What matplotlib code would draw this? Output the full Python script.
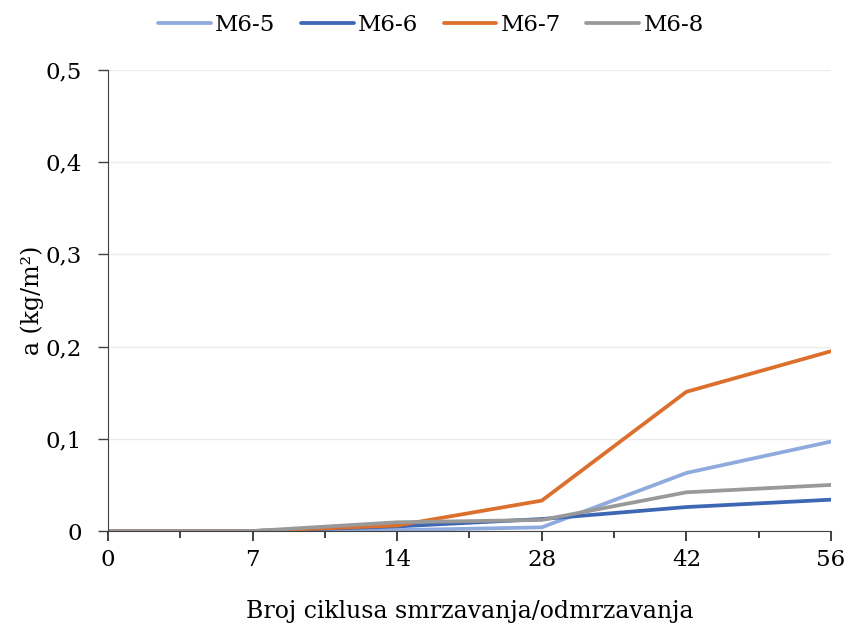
import matplotlib
matplotlib.use("Agg")
import matplotlib.pyplot as plt
import numpy as np

plt.rcParams['font.family'] = ['DejaVu Serif']

cycles = ["0", "7", "14", "28", "42", "56"]
m6_5 = [0, 0, 0.001, 0.004, 0.063, 0.097]
m6_6 = [0, 0, 0.005, 0.013, 0.026, 0.034]
m6_7 = [0, 0, 0.006, 0.033, 0.151, 0.195]
m6_8 = [0, 0, 0.0095, 0.012, 0.042, 0.050]

series = [("M6-5", m6_5, "#8FAADC"),
          ("M6-6", m6_6, "#3D66B4"),
          ("M6-7", m6_7, "#DB6F2B"),
          ("M6-8", m6_8, "#999999")]

fig = plt.figure(figsize=(8.45, 6.3), dpi=100)
ax = fig.add_axes([0.1278, 0.1571, 0.8556, 0.7318])

x = np.arange(len(cycles))
for name, vals, col in series:
    ax.plot(x, vals, color=col, lw=2.7, label=name, solid_capstyle="round")

ax.set_xlim(0, len(cycles) - 1)
ax.set_ylim(0, 0.5)
ax.set_xticks(x)
ax.set_xticklabels(cycles)
ax.set_xticks(x[:-1] + 0.5, minor=True)
ax.set_yticks(np.arange(0, 0.51, 0.1))
ax.set_yticklabels(["0", "0,1", "0,2", "0,3", "0,4", "0,5"])

ax.grid(axis="y", color="#EBEBEB", lw=1)
ax.set_axisbelow(True)
for s in ["top", "right"]:
    ax.spines[s].set_visible(False)
ax.spines["left"].set_color("#404040")
ax.spines["bottom"].set_color("#404040")
ax.tick_params(axis="x", which="major", length=7, width=1.2, color="#202020",
               labelsize=16.5, pad=6)
ax.tick_params(axis="x", which="minor", length=5, width=1.2, color="#202020")
ax.tick_params(axis="y", length=7.5, width=1, color="#404040", labelsize=16.5, pad=11.5)

ax.set_xlabel("Broj ciklusa smrzavanja/odmrzavanja", fontsize=17, labelpad=21)
ax.set_ylabel("a (kg/m²)", fontsize=17, labelpad=1)

ax.legend(loc="center", bbox_to_anchor=(431 / 845, 1 - 25 / 630),
          bbox_transform=fig.transFigure, ncol=4, frameon=False,
          fontsize=16.5, handlelength=2.3, columnspacing=1.1, handletextpad=0.2)

fig.savefig("out.png", dpi=100)
